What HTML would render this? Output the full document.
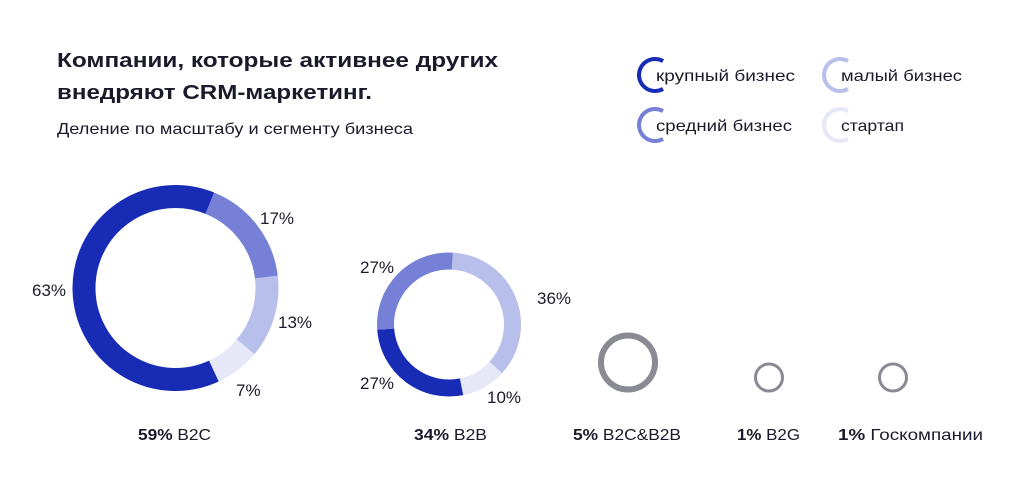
<!DOCTYPE html>
<html><head><meta charset="utf-8"><style>
body{margin:0;background:#fff;width:1024px;height:484px;overflow:hidden;font-family:"Liberation Sans","Noto Sans CJK SC",sans-serif;}
svg text{font-family:"Liberation Sans","Noto Sans CJK SC",sans-serif;fill:#1a1a2a;}
</style></head><body>
<svg width="1024" height="484" id="chart">
<text x="57" y="67" font-size="20" font-weight="bold" textLength="441" lengthAdjust="spacingAndGlyphs">Компании, которые активнее других</text>
<text x="57" y="99" font-size="20" font-weight="bold" textLength="315" lengthAdjust="spacingAndGlyphs">внедряют CRM-маркетинг.</text>
<text x="57" y="134" font-size="16" textLength="356" lengthAdjust="spacingAndGlyphs">Деление по масштабу и сегменту бизнеса</text>
<g id="legend"></g>
<g id="donuts"></g>
</svg>
<script>
const segmentNames=["крупный бизнес","средний бизнес","малый бизнес","стартап"];
const segmentColors=["#182bb5","#7580d6","#b8bfea","#e6e8f7"];
const b2cValues=[63,17,13,7];
const b2bValues=[27,27,36,10];
const totalsPct=[59,34,5,1,1];
const totalsLabels=["B2C","B2B","B2C&B2B","B2G","Госкомпании"];
const NS="http://www.w3.org/2000/svg";
const svg=document.getElementById('chart');
const lg=document.getElementById('legend');
const dg=document.getElementById('donuts');
function mk(t,a,p){const e=document.createElementNS(NS,t);for(const k in a)e.setAttribute(k,a[k]);(p||svg).appendChild(e);return e;}
function pt(cx,cy,r,deg){const a=(deg-90)*Math.PI/180;return [cx+r*Math.cos(a),cy+r*Math.sin(a)];}
function arc(cx,cy,r,a0,a1){const p0=pt(cx,cy,r,a0),p1=pt(cx,cy,r,a1);return `M${p0[0]},${p0[1]} A${r},${r} 0 ${a1-a0>180?1:0} 1 ${p1[0]},${p1[1]}`;}
// legend
const legPos=[[655,75],[655,125],[840,75],[840,125]];
const legW=[139,136,121,63];
segmentNames.forEach((n,i)=>{
  const [x,y]=legPos[i];
  const a=pt(x,y,16,30),b=pt(x,y,16,150);
  const p=mk('path',{d:`M${a[0]},${a[1]} A16,16 0 1 0 ${b[0]},${b[1]}`,fill:'none',stroke:segmentColors[i],'stroke-width':4},lg);
  
  
  const t=mk('text',{x:x+1,y:y+6,'font-size':16,textLength:legW[i],lengthAdjust:'spacingAndGlyphs'},lg);t.textContent=n;
  
  
});
// donut
function donut(vals,order,cx,cy,r,w,start,labelPos,name){
  let a=start;
  order.forEach(i=>{
    const sweep=vals[i]/100*360;
    const p=mk('path',{d:arc(cx,cy,r,a,a+sweep),fill:'none',stroke:segmentColors[i],'stroke-width':w},dg);
    
    
    a+=sweep;
  });
  order.forEach((i,k)=>{
    const t=mk('text',{x:labelPos[k][0],y:labelPos[k][1],'font-size':17},dg);
    t.textContent=vals[i]+'%';
    
    
  });
}
donut(b2cValues,[1,2,3,0],175.5,288,91.5,23,22,[[260,224],[278,328],[236,396],[32,296]],'b2c');
donut(b2bValues,[2,3,0,1],449,324.5,63.5,17,3,[[537,304],[487,403],[360,389],[360,273]],'b2b');
// small rings
const rings=[[628,362.5,27,6],[769,377.5,13.5,3],[893,377.5,13.5,3]];
rings.forEach(r=>{
  const c=mk('circle',{cx:r[0],cy:r[1],r:r[2],fill:'none',stroke:'#8a8a94','stroke-width':r[3]},dg);
  
  
});
const capX=[174.5,450.5,627,768.5,910.5];
const capW=[73,73,108,63,145];
totalsLabels.forEach((l,i)=>{
  const t=mk('text',{x:capX[i]-capW[i]/2,y:440,'font-size':16,textLength:capW[i],lengthAdjust:'spacingAndGlyphs'},dg);
  t.innerHTML=`<tspan font-weight="bold">${totalsPct[i]}%</tspan> ${l.replace('&','&amp;')}`;
  
  
});
</script>
</body></html>
